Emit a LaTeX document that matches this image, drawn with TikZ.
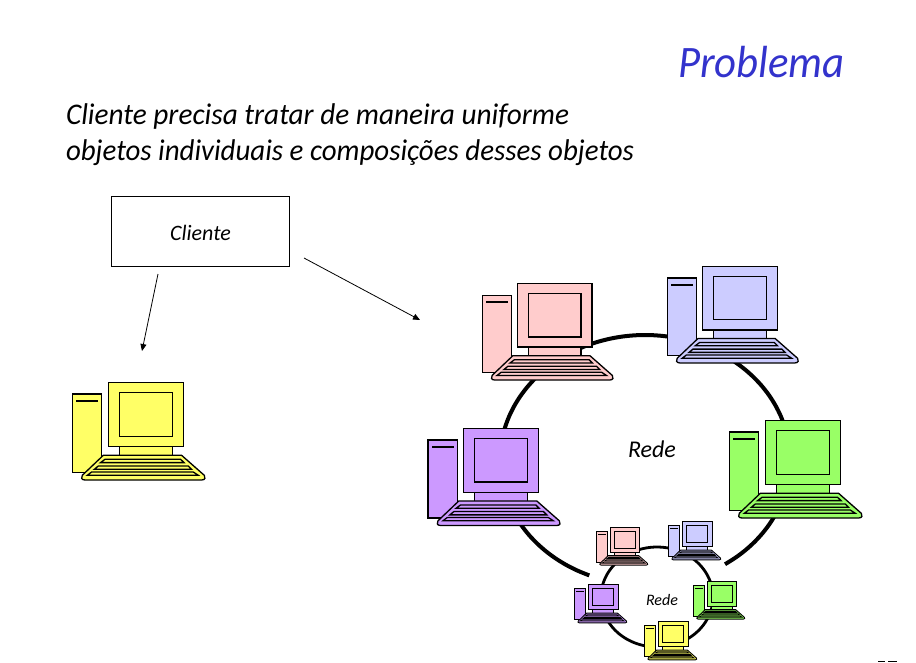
\documentclass[tikz,border=0pt]{standalone}
\usepackage{fontspec}
\setmainfont{Carlito}
\usetikzlibrary{arrows.meta}
\definecolor{titleblue}{HTML}{3333CC}
\definecolor{cpink}{HTML}{FFCCCC}
\definecolor{cblue}{HTML}{CCCCFF}
\definecolor{cpurple}{HTML}{CC99FF}
\definecolor{cgreen}{HTML}{99FF66}
\definecolor{cyellow}{HTML}{FFFF66}
\tikzset{
  txt/.style={anchor=base west,inner sep=0pt,outer sep=0pt,font=\itshape},
  link/.style={draw=black,line width=0.8pt,-{Triangle[length=7pt,width=6pt]}},
  ring/.style={draw=black,line cap=butt},
}
% #1 x, #2 y, #3 scale, #4 colour, #5 line width
\newcommand{\pcat}[5]{%
\begin{scope}[shift={(#1,#2)},x={(#3*1pt,0pt)},y={(0pt,#3*-1pt)},draw=black,fill=#4,line width=#5,line join=miter]
  \filldraw (0,11.7) rectangle (29.3,90);
  \fill[black] (3.7,17.4) rectangle (25.7,19.6);
  \filldraw (47,64.3) rectangle (100.3,74);
  \filldraw (36,0) rectangle (111.3,64.3);
  \filldraw (47,10) rectangle (100.3,54);
  \filldraw (31,73) -- (109.3,73) -- (132,93) .. controls (133.5,95) and (133,97.7) .. (129.3,97.7)
     -- (12.7,97.7) .. controls (9,97.7) and (8.5,95) .. (10,93) -- cycle;
  \filldraw (32.7,77) -- (108.3,77) -- (111.7,80.3) -- (28.3,80.3) -- cycle;
  \filldraw (26,83.7) -- (116,83.7) -- (119.3,87) -- (22,87) -- cycle;
  \filldraw (19.3,89.7) -- (121,89.7) -- (126,93) -- (15,93) -- cycle;
\end{scope}}
\begin{document}
\begin{tikzpicture}[x=1pt,y=-1pt]
\useasboundingbox (0,0) rectangle (916,662);
\path[fill=white] (0,0) rectangle (916,662);

\node[txt,text=titleblue,font=\itshape\fontsize{45}{45}\selectfont] (title) at (678,77) {\scalebox{0.95}[1]{Problema}};
\node[txt,font=\itshape\fontsize{30}{30}\selectfont] (line1) at (66,124) {\scalebox{0.975}[1]{Cliente precisa tratar de maneira uniforme}};
\node[txt,font=\itshape\fontsize{30}{30}\selectfont] (line2) at (66,160) {\scalebox{0.964}[1]{objetos individuais e composições desses objetos}};

\node[draw=black,line width=1pt,minimum width=178.4pt,minimum height=70pt,inner sep=0pt,
      font=\itshape\fontsize{22}{22}\selectfont] (cliente) at (200.5,231.3) {\raisebox{-9pt}[0pt][0pt]{Cliente}};

\coordinate (a1s) at (158,274);
\coordinate (a1e) at (142,351);
\coordinate (a2s) at (304,258);
\coordinate (a2e) at (420,320);
\draw[link] (a1s) -- (a1e);
\draw[link] (a2s) -- (a2e);

% rings
\draw[ring,line width=4pt] plot[smooth,samples=60,domain=112.6:416.5] ({645+145*cos(\x)},{460+125*sin(\x)});
\draw[ring,line width=2.8pt] plot[smooth,samples=60,domain=95:416.5] ({657+56*cos(\x)},{597+50*sin(\x)});

% large computers
\pcat{72.3}{382.3}{1}{cyellow}{1.3pt}
\pcat{482.3}{283.8}{0.985}{cpink}{1.3pt}
\pcat{667.3}{266.5}{0.987}{cblue}{1.3pt}
\pcat{428}{428.3}{0.995}{cpurple}{1.3pt}
\pcat{729.3}{420.3}{1}{cgreen}{1.3pt}
% small computers
\pcat{596.3}{527.3}{0.387}{cpink}{0.9pt}
\pcat{668.3}{521.3}{0.395}{cblue}{0.9pt}
\pcat{574.3}{584.3}{0.395}{cpurple}{0.9pt}
\pcat{693.3}{581.3}{0.387}{cgreen}{0.9pt}
\pcat{644.3}{621.3}{0.395}{cyellow}{0.9pt}

\node[txt,font=\itshape\fontsize{24}{24}\selectfont] (rede) at (628,457) {Rede};
\node[txt,font=\itshape\fontsize{16}{16}\selectfont] (rede2) at (646,605) {Rede};

% clipped page number at the bottom edge
\fill[black] (878,661) rectangle (885,662);
\fill[black] (888,661) rectangle (897,662);
\end{tikzpicture}
\end{document}
